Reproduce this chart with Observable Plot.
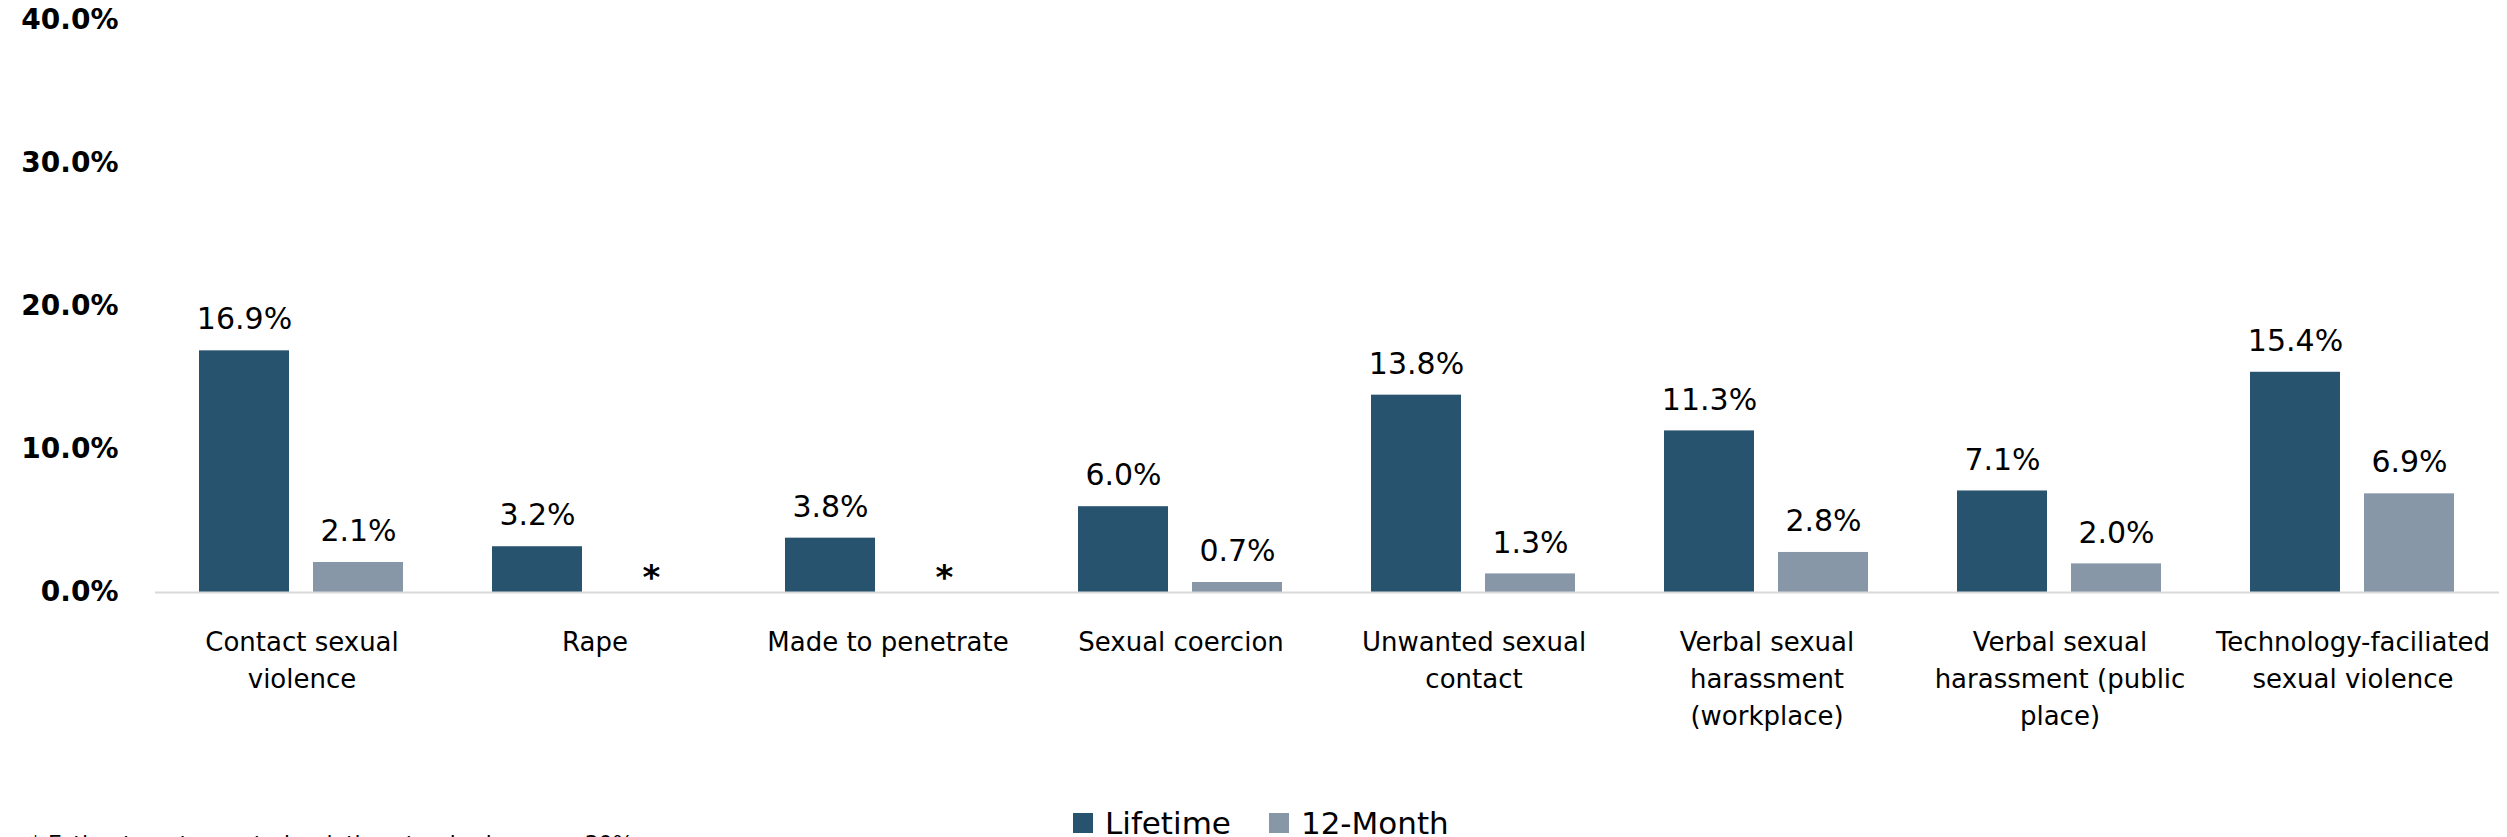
<!DOCTYPE html>
<html><head><meta charset="utf-8">
<script src="https://cdn.jsdelivr.net/npm/d3@7"></script>
<script src="https://cdn.jsdelivr.net/npm/@observablehq/plot@0.6"></script>
<style>
html,body{margin:0;padding:0;background:#fff;overflow:hidden;}
#wrap{position:relative;width:2507px;height:837px;font-family:"DejaVu Sans",sans-serif;overflow:hidden;}
#chart{position:absolute;left:0;top:0;}
#legend{position:absolute;top:805px;left:1073px;}
#legend *{font-family:"DejaVu Sans",sans-serif !important;font-size:31px !important;color:#000 !important;}
#legend span{margin-right:38px !important;}
#legend svg{margin-right:12px !important;}
#note{position:absolute;left:30px;top:833px;font-size:22px;line-height:22px;color:#000;white-space:nowrap;}
</style></head><body><div id="wrap"><div id="chart"></div><div id="legend"></div><div id="note"></div></div>
<script>
const categories = ["Contact sexual violence","Rape","Made to penetrate","Sexual coercion","Unwanted sexual contact","Verbal sexual harassment (workplace)","Verbal sexual harassment (public place)","Technology-faciliated sexual violence"];
const tickLabels = ["Contact sexual\nviolence","Rape","Made to penetrate","Sexual coercion","Unwanted sexual\ncontact","Verbal sexual\nharassment\n(workplace)","Verbal sexual\nharassment (public\nplace)","Technology-faciliated\nsexual violence"];
const seriesNames = ["Lifetime","12-Month"];
const seriesColors = ["#28536E","#8797A8"];
const lifetime = [16.9, 3.2, 3.8, 6.0, 13.8, 11.3, 7.1, 15.4];
const twelveMonth = [2.1, null, null, 0.7, 1.3, 2.8, 2.0, 6.9];
const yTicks = [0, 10, 20, 30, 40];
const footnote = "* Estimate not reported; relative standard error > 30%";

const rows = [];
categories.forEach((c, i) => {
  rows.push({category: c, series: "Lifetime", value: lifetime[i]});
  rows.push({category: c, series: "12-Month", value: twelveMonth[i]});
});
const present = rows.filter(d => d.value != null);
const missing = rows.filter(d => d.value == null);

const plot = Plot.plot({
  width: 2507, height: 800,
  marginLeft: 154, marginRight: 7, marginTop: 20, marginBottom: 208,
  style: {fontFamily: "DejaVu Sans", background: "white", color: "#000"},
  fx: {domain: categories, padding: 0, label: null},
  x: {domain: seriesNames, paddingInner: 0.21, paddingOuter: 0.39, axis: null},
  y: {domain: [0, 40], label: null},
  color: {domain: seriesNames, range: seriesColors},
  marks: [
    Plot.axisY({ticks: yTicks, tickSize: 0, tickPadding: 37, tickFormat: d => d.toFixed(1) + "%", fontSize: 28, fontWeight: "bold", label: null}),
    Plot.axisFx({anchor: "bottom", tickSize: 0, tickPadding: 32, tickFormat: c => tickLabels[categories.indexOf(c)], fontSize: 26, lineHeight: 1.42, label: null}),
    Plot.barY(present, {fx: "category", x: "series", y: "value", fill: "series"}),
    Plot.ruleY([0], {stroke: "#d9d9d9", strokeWidth: 2}),
    Plot.text(present, {fx: "category", x: "series", y: "value", text: d => d.value.toFixed(1) + "%", dy: -31, fontSize: 30, fill: "#000"}),
    Plot.text(missing, {fx: "category", x: "series", y: () => 0, text: () => "*", dy: -14, fontSize: 34, fontWeight: "bold", fill: "#000"})
  ]
});
document.getElementById("chart").appendChild(plot);
const leg = Plot.legend({color: {domain: seriesNames, range: seriesColors}, swatchSize: 20, swatchWidth: 20, swatchHeight: 20});
document.getElementById("legend").appendChild(leg);
document.getElementById("note").textContent = footnote;
</script></body></html>
